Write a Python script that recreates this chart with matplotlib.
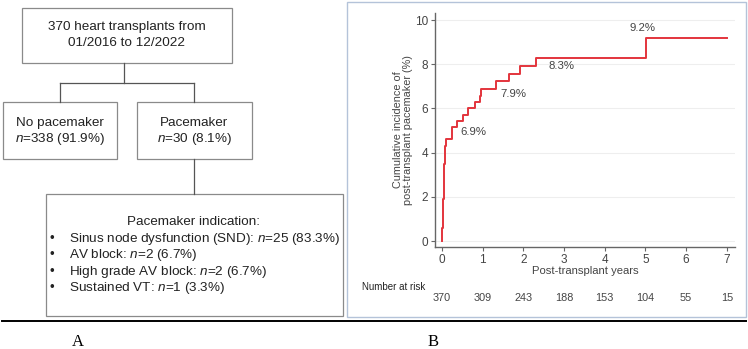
import matplotlib
matplotlib.use("Agg")
import matplotlib.pyplot as plt
import matplotlib.transforms as mtransforms
from matplotlib.patches import Rectangle

plt.rcParams['font.family'] = ['Liberation Sans', 'DejaVu Sans']
plt.rcParams['mathtext.fontset'] = 'custom'
plt.rcParams['mathtext.rm'] = 'Liberation Sans'
plt.rcParams['mathtext.it'] = 'Liberation Sans:italic'

# --- datos del panel A (diagrama de flujo) ---
total_text = ["370 heart transplants from", "01/2016 to 12/2022"]
no_pm_text = ["No pacemaker", r"$n$=338 (91.9%)"]
pm_text = ["Pacemaker", r"$n$=30 (8.1%)"]
indication_title = "Pacemaker indication:"
indications = [
    r"Sinus node dysfunction (SND): $n$=25 (83.3%)",
    r"AV block: $n$=2 (6.7%)",
    r"High grade AV block: $n$=2 (6.7%)",
    r"Sustained VT: $n$=1 (3.3%)",
]

# --- datos del panel B (incidencia acumulada) ---
years = [0.0, 0.01, 0.02, 0.03, 0.04, 0.05, 0.06, 0.07, 0.08, 0.09,
         0.25, 0.36, 0.51, 0.65, 0.81, 0.93, 0.97, 1.32, 1.65, 1.92,
         2.31, 5.01, 7.0]
incidence = [0.0, 0.6, 1.3, 1.9, 2.5, 3.0, 3.5, 3.9, 4.3, 4.6,
             5.15, 5.45, 5.72, 6.0, 6.28, 6.56, 6.9, 7.22, 7.55, 7.9,
             8.3, 9.2, 9.2]
label_years = [1, 2, 3, 5]
label_values = [6.9, 7.9, 8.3, 9.2]
risk_years = [0, 1, 2, 3, 4, 5, 6, 7]
at_risk = [370, 309, 243, 188, 153, 104, 55, 15]

W, H = 748, 349
fig = plt.figure(figsize=(W / 100, H / 100), dpi=100)

# capa en píxeles para el diagrama y los marcos
ov = fig.add_axes([0, 0, 1, 1])
ov.set_xlim(0, W)
ov.set_ylim(H, 0)
ov.axis('off')

box_ec = '#8a8a8a'
line_c = '#555555'
txt_c = '#222222'
fs_a = 9.7


def caja(x0, y0, x1, y1, lines, ys):
    ov.add_patch(Rectangle((x0, y0), x1 - x0, y1 - y0, fill=False, ec=box_ec, lw=0.9))
    for t, y in zip(lines, ys):
        ov.text((x0 + x1) / 2, y, t, ha='center', va='center', fontsize=fs_a, color=txt_c)


caja(22, 8, 232, 63, total_text, [27, 43])
caja(3, 102, 117, 159, no_pm_text, [123, 139])
caja(137, 102, 252, 159, pm_text, [123, 139])

# conectores
ov.plot([124, 124], [63, 83], color=line_c, lw=0.9)
ov.plot([60, 194], [83, 83], color=line_c, lw=0.9)
ov.plot([60, 60], [83, 102], color=line_c, lw=0.9)
ov.plot([194, 194], [83, 102], color=line_c, lw=0.9)
ov.plot([194, 194], [159, 194], color=line_c, lw=0.9)

# caja de indicaciones
ov.add_patch(Rectangle((46, 194), 297, 122, fill=False, ec=box_ec, lw=0.9))
ov.text(194, 222, indication_title, ha='center', va='center', fontsize=fs_a, color=txt_c)
for i, t in enumerate(indications):
    y = 239 + i * 16.4
    ov.text(52, y, "\u2022", ha='center', va='center', fontsize=fs_a, color=txt_c)
    ov.text(69, y, t, ha='left', va='center', fontsize=fs_a, color=txt_c)

# marco del panel B
ov.add_patch(Rectangle((347, 2), 399, 315, fill=False, ec='#b4c3d9', lw=1.0))

# línea inferior y letras
ov.plot([2, 746], [321, 321], color='black', lw=1.4)
ov.text(78, 342, "A", ha='center', va='center', fontsize=12, family='Liberation Serif')
ov.text(433, 342, "B", ha='center', va='center', fontsize=12, family='Liberation Serif')

# --- panel B ---
ax = fig.add_axes([435 / W, 1 - 247 / H, 300 / W, 234 / H])
ax.patch.set_alpha(0)
red = '#e3343c'
gray = '#444444'
ax.plot(years, incidence, drawstyle='steps-post', color=red, lw=1.4, zorder=3)

offsets = [(-7, -31), (-7, -20), (-2, -6), (-2, 7)]
for yr, val, off in zip(label_years, label_values, offsets):
    ax.annotate(f"{val}%", (yr, val), textcoords='offset points', xytext=off,
                ha='center', va='center', fontsize=8.2, color=gray)

ax.set_xlim(-0.17, 7.2)
ax.set_ylim(-0.27, 10.32)
ax.set_xticks(range(0, 8))
ax.set_yticks(range(0, 11, 2))
ax.grid(axis='y', color='#eeeeee', lw=0.8)
ax.set_axisbelow(True)
for s in ['top', 'right']:
    ax.spines[s].set_visible(False)
for s in ['left', 'bottom']:
    ax.spines[s].set_color('#666666')
    ax.spines[s].set_linewidth(1.0)
ax.tick_params(length=3, width=0.8, color='#666666', labelsize=8.5, labelcolor=gray, pad=2)

ax.set_xlabel("Post-transplant years", fontsize=8.1, color=gray)
ax.xaxis.set_label_coords(0.5, -0.082)
ax.set_ylabel("Cumulative incidence of\npost-transplant pacemaker (%)", fontsize=7.8, color=gray,
              linespacing=1.0)
ax.yaxis.set_label_coords(-0.072, 0.5)

# número en riesgo
tr = mtransforms.blended_transform_factory(ax.transData, ov.transData)
ov.text(362, 287, "Number at risk", ha='left', va='center', fontsize=7.0, color='#222222')
for yr, n in zip(risk_years, at_risk):
    ax.text(yr, 298, str(n), transform=tr, ha='center', va='center', fontsize=7.8,
            color=gray, clip_on=False)

fig.savefig("out.png", dpi=100)
